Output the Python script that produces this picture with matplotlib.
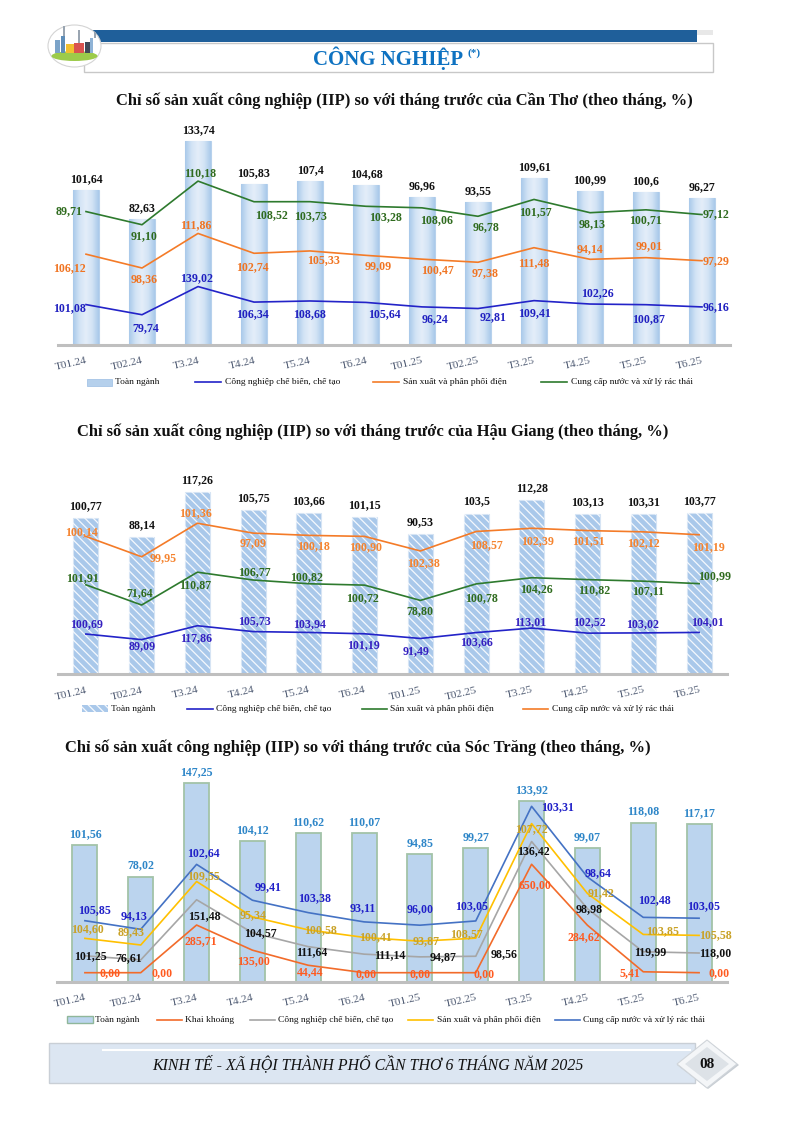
import numpy as np
import matplotlib
matplotlib.use("Agg")
import matplotlib.pyplot as plt
from matplotlib.patches import Rectangle, Ellipse, Polygon
from matplotlib.lines import Line2D
from matplotlib.colors import LinearSegmentedColormap

plt.rcParams['font.family'] = ['Liberation Serif', 'DejaVu Serif']

# ---------------- data ----------------
months = ['T01.24', 'T02.24', 'T3.24', 'T4.24', 'T5.24', 'T6.24',
          'T01.25', 'T02.25', 'T3.25', 'T4.25', 'T5.25', 'T6.25']

ct_total = [101.64, 82.63, 133.74, 105.83, 107.4, 104.68, 96.96, 93.55, 109.61, 100.99, 100.6, 96.27]
ct_chebien = [101.08, 79.74, 139.02, 106.34, 108.68, 105.64, 96.24, 92.81, 109.41, 102.26, 100.87, 96.16]
ct_dien = [106.12, 98.36, 111.86, 102.74, 105.33, 99.09, 100.47, 97.38, 111.48, 94.14, 99.01, 97.29]
ct_nuoc = [89.71, 91.10, 110.18, 108.52, 103.73, 103.28, 108.06, 96.78, 101.57, 98.13, 100.71, 97.12]

hg_total = [100.77, 88.14, 117.26, 105.75, 103.66, 101.15, 90.53, 103.5, 112.28, 103.13, 103.31, 103.77]
hg_chebien = [100.69, 89.09, 117.86, 105.73, 103.94, 101.19, 91.49, 103.66, 113.01, 102.52, 103.02, 104.01]
hg_dien = [101.91, 71.64, 110.87, 106.77, 100.82, 100.72, 78.80, 100.78, 104.26, 110.82, 107.11, 100.99]
hg_nuoc = [100.14, 99.95, 101.36, 97.09, 100.18, 100.90, 102.38, 108.57, 102.39, 101.51, 102.12, 101.19]

st_total = [101.56, 78.02, 147.25, 104.12, 110.62, 110.07, 94.85, 99.27, 133.92, 99.07, 118.08, 117.17]
st_khaikhoang = [0.00, 0.00, 285.71, 135.00, 44.44, 0.00, 0.00, 0.00, 650.00, 284.62, 5.41, 0.00]
st_chebien = [101.25, 76.61, 151.48, 104.57, 111.64, 111.14, 94.87, 98.56, 136.42, 98.98, 119.99, 118.00]
st_dien = [104.60, 89.43, 109.55, 95.34, 100.58, 100.41, 93.87, 108.57, 107.72, 91.42, 103.85, 105.58]
st_nuoc = [105.85, 94.13, 102.64, 99.41, 103.38, 93.11, 96.00, 103.05, 103.31, 98.64, 102.48, 103.05]

lbl_total = 'Toàn ngành'
lbl_kk = 'Khai khoáng'
lbl_cb = 'Công nghiệp chế biến, chế tạo'
lbl_dien = 'Sản xuất và phân phối điện'
lbl_nuoc = 'Cung cấp nước và xử lý rác thái'

# ---------------- label offsets (pixels, dx right, dy up) ----------------
off_ct_cb = [(-16, -4), (4, -13), (-1, 8), (-2, -12), (0, -13), (18, -12),
             (13, -12), (15, -9), (0, -13), (7, 11), (3, -14), (14, 0)]
off_ct_dien = [(-17, -14), (2, -11), (-2, 8), (-2, -14), (14, -9), (12, -11),
               (15, -11), (7, -11), (0, -15), (0, 10), (3, 12), (14, 0)]
off_ct_nuoc = [(-17, 0), (2, -11), (2, 8), (17, -13), (1, -14), (20, -11),
               (15, -12), (8, -11), (1, -13), (2, -11), (-1, -10), (14, 0)]

off_hg_cb = [(1, 10), (1, -7), (-1, -12), (1, 10), (1, 8), (-1, -11),
             (-4, -13), (0, -10), (-2, 6), (2, 11), (-1, 9), (8, 10)]
off_hg_dien = [(-3, 7), (-2, 12), (-2, -13), (1, 8), (-2, 7), (-2, -13),
               (0, -11), (5, -14), (5, -11), (7, -11), (5, -10), (15, 7)]
off_hg_nuoc = [(-4, 4), (21, -1), (-2, 10), (0, -10), (5, -11), (1, -11),
               (3, -12), (10, -14), (6, -13), (1, -11), (0, -11), (9, -12)]

off_st_kk = [(25, 0), (21, 0), (4, -16), (1, -11), (2, -7), (2, -1),
             (0, -1), (8, -1), (3, -21), (-4, -12), (-13, -1), (20, 0)]
off_st_cb = [(5, 0), (-12, 2), (8, -16), (8, 0), (3, -5), (26, -1),
             (23, 0), (28, 2), (2, -10), (2, 0), (7, 0), (16, 0)]
off_st_dien = [(3, 9), (-10, 13), (7, 5), (1, 2), (12, 0), (11, 0),
               (6, 0), (-9, 4), (0, -6), (14, 0), (19, 3), (16, 0)]
off_st_nuoc = [(10, 11), (-7, 13), (7, 11), (16, 13), (6, 14), (-1, 14),
               (0, 16), (-4, 15), (26, -1), (11, 4), (11, 17), (4, 12)]

W, H = 794, 1122
fig = plt.figure(figsize=(W / 100, H / 100), dpi=100)
fig.patch.set_facecolor('white')

LBL_FS = 8.6


def fmt_total(v):
    return f"{v:g}".replace('.', ',')


def fmt2(v):
    return f"{v:.2f}".replace('.', ',')


def make_axes(x0, width, top, baseline, k1, s0, k2):
    h = baseline - top
    ax = fig.add_axes([x0 / W, 1 - baseline / H, width / W, h / H])
    ax.set_xlim(-0.5, 11.5)
    ax.set_ylim(0, h / k1)
    ax2 = ax.twinx()
    ax2.set_ylim(s0, s0 + h / k2)
    for a in (ax, ax2):
        for s in ['top', 'right', 'left', 'bottom']:
            a.spines[s].set_visible(False)
        a.set_yticks([])
        a.patch.set_visible(False)
    ax.spines['bottom'].set_visible(True)
    ax.spines['bottom'].set_color('#BFBFBF')
    ax.spines['bottom'].set_linewidth(2.2)
    ax.set_xticks(range(len(months)))
    ax.set_xticklabels(months, rotation=13, ha='right', va='top',
                       rotation_mode='anchor', color='#4F5B73', fontsize=8.2)
    ax.tick_params(axis='x', length=0, pad=8)
    return ax, ax2


def bar_labels(ax, vals, color, off):
    for i, v in enumerate(vals):
        ax.annotate(fmt_total(v), (i, v), xytext=(0, off), textcoords='offset pixels',
                    ha='center', va='center', fontsize=LBL_FS, fontweight='bold',
                    color=color, annotation_clip=False)


def line_labels(ax, base, vals, offs, color):
    for i, (b, v) in enumerate(zip(base, vals)):
        dx, dy = offs[i]
        ax.annotate(fmt2(v), (i, b + v), xytext=(dx, dy), textcoords='offset pixels',
                    ha='center', va='center', fontsize=LBL_FS, fontweight='bold',
                    color=color, annotation_clip=False, zorder=6)


x = np.arange(len(months))

# ================= Chart 1: Cần Thơ =================
ax1, ax1b = make_axes(58, 672, 125, 345, 1.524, 16.0, 0.475)
bars1 = ax1.bar(x, ct_total, width=0.45, color='#C9DDF1', edgecolor='#B7D1EC',
                linewidth=0.8, zorder=2)
grad_cmap = LinearSegmentedColormap.from_list(
    'cyl', ['#A9C9EA', '#D2E3F5', '#E4EEF9', '#D2E3F5', '#A9C9EA'])
grad = np.linspace(0, 1, 64).reshape(1, -1)
for b in bars1:
    im = ax1.imshow(grad, extent=[b.get_x(), b.get_x() + b.get_width(), 0, b.get_height()],
                    aspect='auto', cmap=grad_cmap, zorder=2.5, interpolation='bicubic')
    im.set_clip_path(b)
ax1.set_xlim(-0.5, 11.5)
ax1.set_ylim(0, 220 / 1.524)
bar_labels(ax1, ct_total, '#111111', 11)

c1_cb, c1_dien, c1_nuoc = '#2323C8', '#F47B28', '#2E7A2E'
s1 = np.array(ct_chebien)
s2 = s1 + np.array(ct_dien)
s3 = s2 + np.array(ct_nuoc)
ax1b.plot(x, s1, color=c1_cb, lw=1.2, zorder=4)
ax1b.plot(x, s2, color=c1_dien, lw=1.2, zorder=4)
ax1b.plot(x, s3, color=c1_nuoc, lw=1.2, zorder=4)
line_labels(ax1b, np.zeros(12), ct_chebien, off_ct_cb, '#2020C0')
line_labels(ax1b, s1, ct_dien, off_ct_dien, '#F07422')
line_labels(ax1b, s2, ct_nuoc, off_ct_nuoc, '#2F6B1E')

# ================= Chart 2: Hậu Giang =================
ax2, ax2b = make_axes(58, 669, 470, 674.3, 1.553, 17.3, 0.483)
ax2.bar(x, hg_total, width=0.45, color='#A9C8EA', edgecolor='#D6E4F4',
        linewidth=0.8, zorder=2)
plt.rcParams['hatch.linewidth'] = 0.9
ax2.bar(x, hg_total, width=0.45, color='none', edgecolor='#F4F8FD',
        linewidth=0.0, hatch='\\\\\\\\', zorder=2.5)
bar_labels(ax2, hg_total, '#111111', 12)

c2_cb, c2_dien, c2_nuoc = '#2323C8', '#2E7A2E', '#F47B28'
h1 = np.array(hg_chebien)
h2 = h1 + np.array(hg_dien)
h3 = h2 + np.array(hg_nuoc)
ax2b.plot(x, h1, color=c2_cb, lw=1.2, zorder=4)
ax2b.plot(x, h2, color=c2_dien, lw=1.2, zorder=4)
ax2b.plot(x, h3, color=c2_nuoc, lw=1.2, zorder=4)
line_labels(ax2b, np.zeros(12), hg_chebien, off_hg_cb, '#3420C0')
line_labels(ax2b, h1, hg_dien, off_hg_dien, '#2F6B1E')
line_labels(ax2b, h2, hg_nuoc, off_hg_nuoc, '#F5832E')

# ================= Chart 3: Sóc Trăng =================
ax3, ax3b = make_axes(57, 670, 770, 981.7, 1.347, -54.0, 0.1668)
ax3.bar(x, st_total, width=0.45, color='#BBD4EE', edgecolor='#A2C3A8',
        linewidth=1.3, zorder=2)
bar_labels(ax3, st_total, '#2E86C8', 11)

c3_kk, c3_cb, c3_dien, c3_nuoc = '#F26B2A', '#A6A6A6', '#FFC000', '#4472C4'
t1 = np.array(st_khaikhoang)
t2 = t1 + np.array(st_chebien)
t3 = t2 + np.array(st_dien)
t4 = t3 + np.array(st_nuoc)
ax3b.plot(x, t1, color=c3_kk, lw=1.2, zorder=4)
ax3b.plot(x, t2, color=c3_cb, lw=1.2, zorder=4)
ax3b.plot(x, t3, color=c3_dien, lw=1.2, zorder=4)
ax3b.plot(x, t4, color=c3_nuoc, lw=1.2, zorder=4)
line_labels(ax3b, np.zeros(12), st_khaikhoang, off_st_kk, '#FF5A1F')
line_labels(ax3b, t1, st_chebien, off_st_cb, '#111111')
line_labels(ax3b, t2, st_dien, off_st_dien, '#C9A227')
line_labels(ax3b, t3, st_nuoc, off_st_nuoc, '#2020C8')

# ================= overlay (header, titles, legends, footer) =================
ov = fig.add_axes([0, 0, 1, 1], zorder=10)
ov.set_xlim(0, W)
ov.set_ylim(H, 0)
ov.axis('off')
ov.patch.set_visible(False)

# header
ov.add_patch(Rectangle((92, 30), 605, 11.7, facecolor='#1F5F9A', edgecolor='none'))
ov.add_patch(Rectangle((84, 43), 629, 29, facecolor='white', edgecolor='#C8C8C8', lw=1))
ov.add_patch(Rectangle((697, 30), 16, 5, facecolor='#E8E8E8', edgecolor='none'))
ov.text(388, 58, 'CÔNG NGHIỆP', ha='center', va='center', fontsize=15,
        fontweight='bold', color='#0E72C1')
ov.text(474, 53, '(*)', ha='center', va='center', fontsize=8, fontweight='bold',
        color='#0E72C1')
# logo
ov.add_patch(Ellipse((74.5, 46), 53, 42, facecolor='white', edgecolor='#D4D4D4', lw=0.8))
ov.add_patch(Ellipse((74.5, 56), 46, 10, facecolor='#9CCB4A', edgecolor='none'))
for bx, by, bw, bh, bc in [(55, 40, 5, 13, '#7BA3C8'), (61, 36, 4, 17, '#5E8DB8'),
                           (66, 44, 8, 9, '#F2C02E'), (74, 43, 10, 10, '#D9534F'),
                           (85, 42, 5, 11, '#3E4A59'), (90, 38, 3, 15, '#8FB3D6')]:
    ov.add_patch(Rectangle((bx, by), bw, bh, facecolor=bc, edgecolor='none'))
for cx, cy, ch in [(63, 26, 10), (78, 30, 13), (94, 32, 6)]:
    ov.add_patch(Rectangle((cx, cy), 1.6, ch, facecolor='#9AA5B1', edgecolor='none'))

# titles
title_base = 'Chỉ số sản xuất công nghiệp (IIP) so với tháng trước của '
ov.text(404, 101, title_base + 'Cần Thơ (theo tháng, %)', ha='center', va='center',
        fontsize=11.9, fontweight='bold', color='#111111')
ov.text(373, 432, title_base + 'Hậu Giang (theo tháng, %)', ha='center', va='center',
        fontsize=11.9, fontweight='bold', color='#111111')
ov.text(358, 748, title_base + 'Sóc Trăng (theo tháng, %)', ha='center', va='center',
        fontsize=11.9, fontweight='bold', color='#111111')


def leg_bar(x0, y, style):
    if style == 1:
        ov.add_patch(Rectangle((x0, y - 3.5), 25, 7, facecolor='#B5D0EC', edgecolor='#A5C4E6', lw=0.6))
    elif style == 2:
        ov.add_patch(Rectangle((x0, y - 3.5), 26, 7, facecolor='#A9C8EA', edgecolor='none'))
        ov.add_patch(Rectangle((x0, y - 3.5), 26, 7, facecolor='none', edgecolor='#F4F8FD',
                               lw=0, hatch='\\\\\\\\'))
    else:
        ov.add_patch(Rectangle((x0, y - 3.5), 26, 7, facecolor='#BBD4EE', edgecolor='#8FB79A', lw=1))


def leg_line(x0, x1, y, color):
    ov.add_line(Line2D([x0, x1], [y, y], color=color, lw=1.2))


def leg_text(x0, y, s):
    ov.text(x0, y, s, ha='left', va='center', fontsize=6.8, color='#111111')


# legend chart 1
y = 382
leg_bar(87, y, 1); leg_text(115, y, lbl_total)
leg_line(195, 221, y, c1_cb); leg_text(225, y, lbl_cb)
leg_line(373, 399, y, c1_dien); leg_text(403, y, lbl_dien)
leg_line(541, 567, y, c1_nuoc); leg_text(571, y, lbl_nuoc)

# legend chart 2
y = 708.5
leg_bar(82, y, 2); leg_text(111, y, lbl_total)
leg_line(187, 213, y, c2_cb); leg_text(216, y, lbl_cb)
leg_line(362, 387, y, c2_dien); leg_text(390, y, lbl_dien)
leg_line(523, 548, y, c2_nuoc); leg_text(552, y, lbl_nuoc)

# legend chart 3
y = 1019.5
leg_bar(67, y, 3); leg_text(95, y, lbl_total)
leg_line(157, 182, y, c3_kk); leg_text(185, y, lbl_kk)
leg_line(250, 275, y, c3_cb); leg_text(278, y, lbl_cb)
leg_line(408, 433, y, c3_dien); leg_text(437, y, lbl_dien)
leg_line(555, 580, y, c3_nuoc); leg_text(583, y, lbl_nuoc)

# footer
ov.add_patch(Rectangle((49, 1043), 646, 40, facecolor='#DCE6F2', edgecolor='#C9CFD6', lw=1))
ov.add_line(Line2D([103, 690], [1049.5, 1049.5], color='white', lw=1.5))
ov.text(368, 1064, 'KINH TẾ - XÃ HỘI THÀNH PHỐ CẦN THƠ 6 THÁNG NĂM 2025', ha='center',
        va='center', fontsize=11.4, fontstyle='italic', color='#111111')
ov.add_patch(Polygon([(708, 1041), (739, 1065), (708, 1089), (677, 1065)],
                     closed=True, facecolor='#C7CDD3', edgecolor='none'))
ov.add_patch(Polygon([(707, 1040), (737, 1064), (707, 1088), (677, 1064)],
                     closed=True, facecolor='#F4F6F8', edgecolor='#D0D5DA', lw=0.8))
ov.add_patch(Polygon([(707, 1047), (729, 1064), (707, 1081), (685, 1064)],
                     closed=True, facecolor='#DDE2E7', edgecolor='none'))
ov.text(707, 1064, '08', ha='center', va='center', fontsize=11, fontweight='bold',
        color='#111111')

fig.savefig('out.png', dpi=100)
